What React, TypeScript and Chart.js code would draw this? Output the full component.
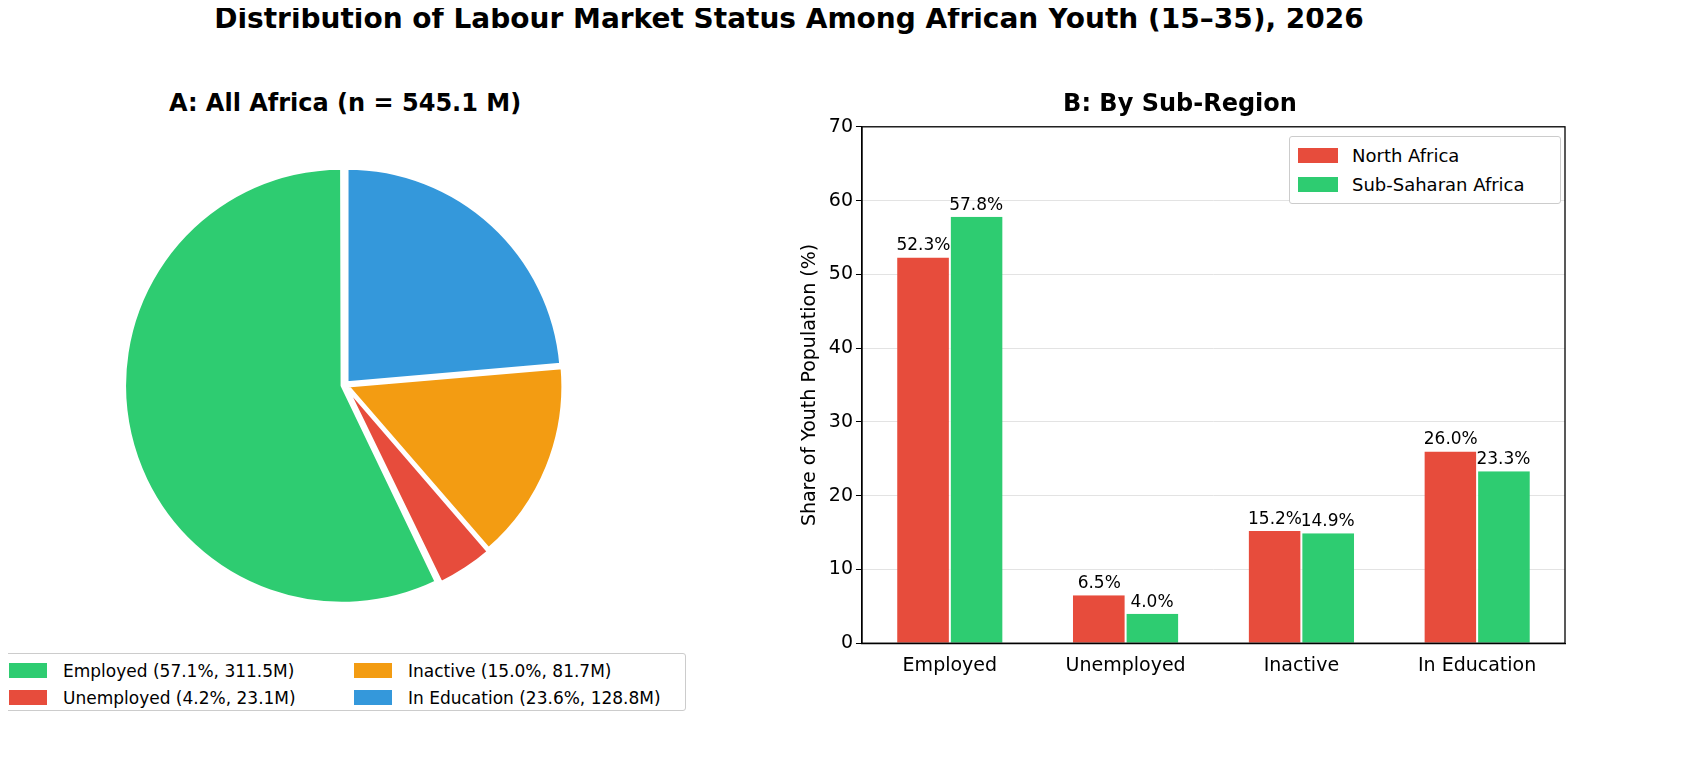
import React, { useEffect, useRef } from "react";
import { Chart, registerables } from "chart.js";
Chart.register(...registerables);

const pieLabels = ["Employed", "Unemployed", "Inactive", "In Education"];
const piePct = [57.1, 4.2, 15.0, 23.6];
const pieMillions = [311.5, 23.1, 81.7, 128.8];
const pieColors = ["#2ecc71", "#e74c3c", "#f39c12", "#3498db"];

const barCategories = ["Employed", "Unemployed", "Inactive", "In Education"];
const northAfrica = [52.3, 6.5, 15.2, 26.0];
const subSaharan = [57.8, 4.0, 14.9, 23.3];

const FONT = "'DejaVu Sans', sans-serif";

const labelPlugin = {
  id: "barLabels",
  afterDatasetsDraw(chart: any) {
    const ctx = chart.ctx;
    ctx.save();
    ctx.font = `17px ${FONT}`;
    ctx.fillStyle = "#000";
    ctx.textAlign = "center";
    ctx.textBaseline = "bottom";
    chart.data.datasets.forEach((ds: any, i: number) => {
      chart.getDatasetMeta(i).data.forEach((bar: any, j: number) => {
        ctx.fillText(ds.data[j].toFixed(1) + "%", bar.x, bar.y - 3);
      });
    });
    ctx.restore();
  },
};

export default function App() {
  const pieRef = useRef<HTMLCanvasElement>(null);
  const barRef = useRef<HTMLCanvasElement>(null);
  useEffect(() => {
    const order = [3, 2, 1, 0];
    const pie = new Chart(pieRef.current!, {
      type: "pie",
      data: {
        labels: order.map((i) => pieLabels[i]),
        datasets: [{
          data: order.map((i) => piePct[i]),
          backgroundColor: order.map((i) => pieColors[i]),
          borderColor: "#fff",
          borderWidth: 3,
          offset: 12,
          hoverOffset: 0,
        }],
      },
      options: {
        animation: false, responsive: false,
        plugins: { legend: { display: false }, tooltip: { enabled: false } },
      },
    });
    const bar = new Chart(barRef.current!, {
      type: "bar",
      data: {
        labels: barCategories,
        datasets: [
          { label: "North Africa", data: northAfrica, backgroundColor: "#e74c3c", borderColor: "#fff", borderWidth: { left: 0, right: 1, top: 0, bottom: 0 } as any, categoryPercentage: 0.6, barPercentage: 1 },
          { label: "Sub-Saharan Africa", data: subSaharan, backgroundColor: "#2ecc71", borderColor: "#fff", borderWidth: { left: 1, right: 0, top: 0, bottom: 0 } as any, categoryPercentage: 0.6, barPercentage: 1 },
        ],
      },
      options: {
        animation: false, responsive: false,
        layout: { padding: { right: 10 } },
        plugins: {
          tooltip: { enabled: false },
          title: { display: true, text: "B: By Sub-Region", font: { family: FONT, size: 24, weight: "bold" }, color: "#000", padding: { top: 0, bottom: 8 } },
          legend: { display: false },
        },
        scales: {
          x: {
            grid: { display: false, drawTicks: true },
            border: { color: "#000", width: 1.3 },
            ticks: { color: "#000", font: { family: FONT, size: 19 } },
          },
          y: {
            min: 0, max: 70,
            ticks: { stepSize: 10, color: "#000", font: { family: FONT, size: 19 } },
            grid: { color: "#e3e3e3", tickColor: "#000", tickLength: 6 },
            border: { color: "#000", width: 1.3 },
            title: { display: true, text: "Share of Youth Population (%)", color: "#000", font: { family: FONT, size: 19 } },
          },
        },
      },
      plugins: [labelPlugin, {
        id: "frame",
        afterDraw(c: any) {
          const a = c.chartArea, ctx = c.ctx;
          ctx.save(); ctx.strokeStyle = "#000"; ctx.lineWidth = 1.3;
          ctx.strokeRect(a.left, a.top, a.right - a.left, a.bottom - a.top);
          ctx.restore();
        },
      }],
    });
    return () => { pie.destroy(); bar.destroy(); };
  }, []);

  const legendItem = (i: number) => (
    <div style={{ display: "flex", alignItems: "center", height: 27 }}>
      <span style={{ width: 38, height: 15, background: pieColors[i], display: "inline-block", marginRight: 16 }} />
      <span>{`${pieLabels[i]} (${piePct[i].toFixed(1)}%, ${pieMillions[i]}M)`}</span>
    </div>
  );

  return (
    <div style={{ position: "relative", width: 1701, height: 775, margin: -8, background: "#fff", fontFamily: FONT, color: "#000" }}>
      <div style={{ position: "absolute", top: 2, left: 0, width: 1578, textAlign: "center", fontSize: 28, fontWeight: "bold" }}>
        Distribution of Labour Market Status Among African Youth (15–35), 2026
      </div>
      <div style={{ position: "absolute", top: 89, left: 0, width: 690, textAlign: "center", fontSize: 24, fontWeight: "bold" }}>
        A: All Africa (n = 545.1 M)
      </div>
      <canvas ref={pieRef} width={444} height={444} style={{ position: "absolute", left: 123, top: 163 }} />
      <div style={{ position: "absolute", left: 0, top: 653, width: 686, height: 58, border: "1px solid #ccc", borderRadius: 3, fontSize: 17, display: "flex", padding: "3px 0 0 8px", boxSizing: "border-box" }}>
        <div style={{ width: 345 }}>{legendItem(0)}{legendItem(1)}</div>
        <div>{legendItem(2)}{legendItem(3)}</div>
      </div>
      <canvas ref={barRef} width={780} height={590} style={{ position: "absolute", left: 795, top: 90 }} />
      <div style={{ position: "absolute", left: 1289, top: 136, width: 272, height: 68, border: "1px solid #ccc", borderRadius: 3, background: "#fff", fontSize: 18, padding: "4px 0 0 8px", boxSizing: "border-box" }}>
        {[["North Africa", "#e74c3c"], ["Sub-Saharan Africa", "#2ecc71"]].map(([t, c]) => (
          <div key={t} style={{ display: "flex", alignItems: "center", height: 29 }}>
            <span style={{ width: 40, height: 15, background: c, display: "inline-block", marginRight: 14 }} />{t}
          </div>
        ))}
      </div>
    </div>
  );
}
